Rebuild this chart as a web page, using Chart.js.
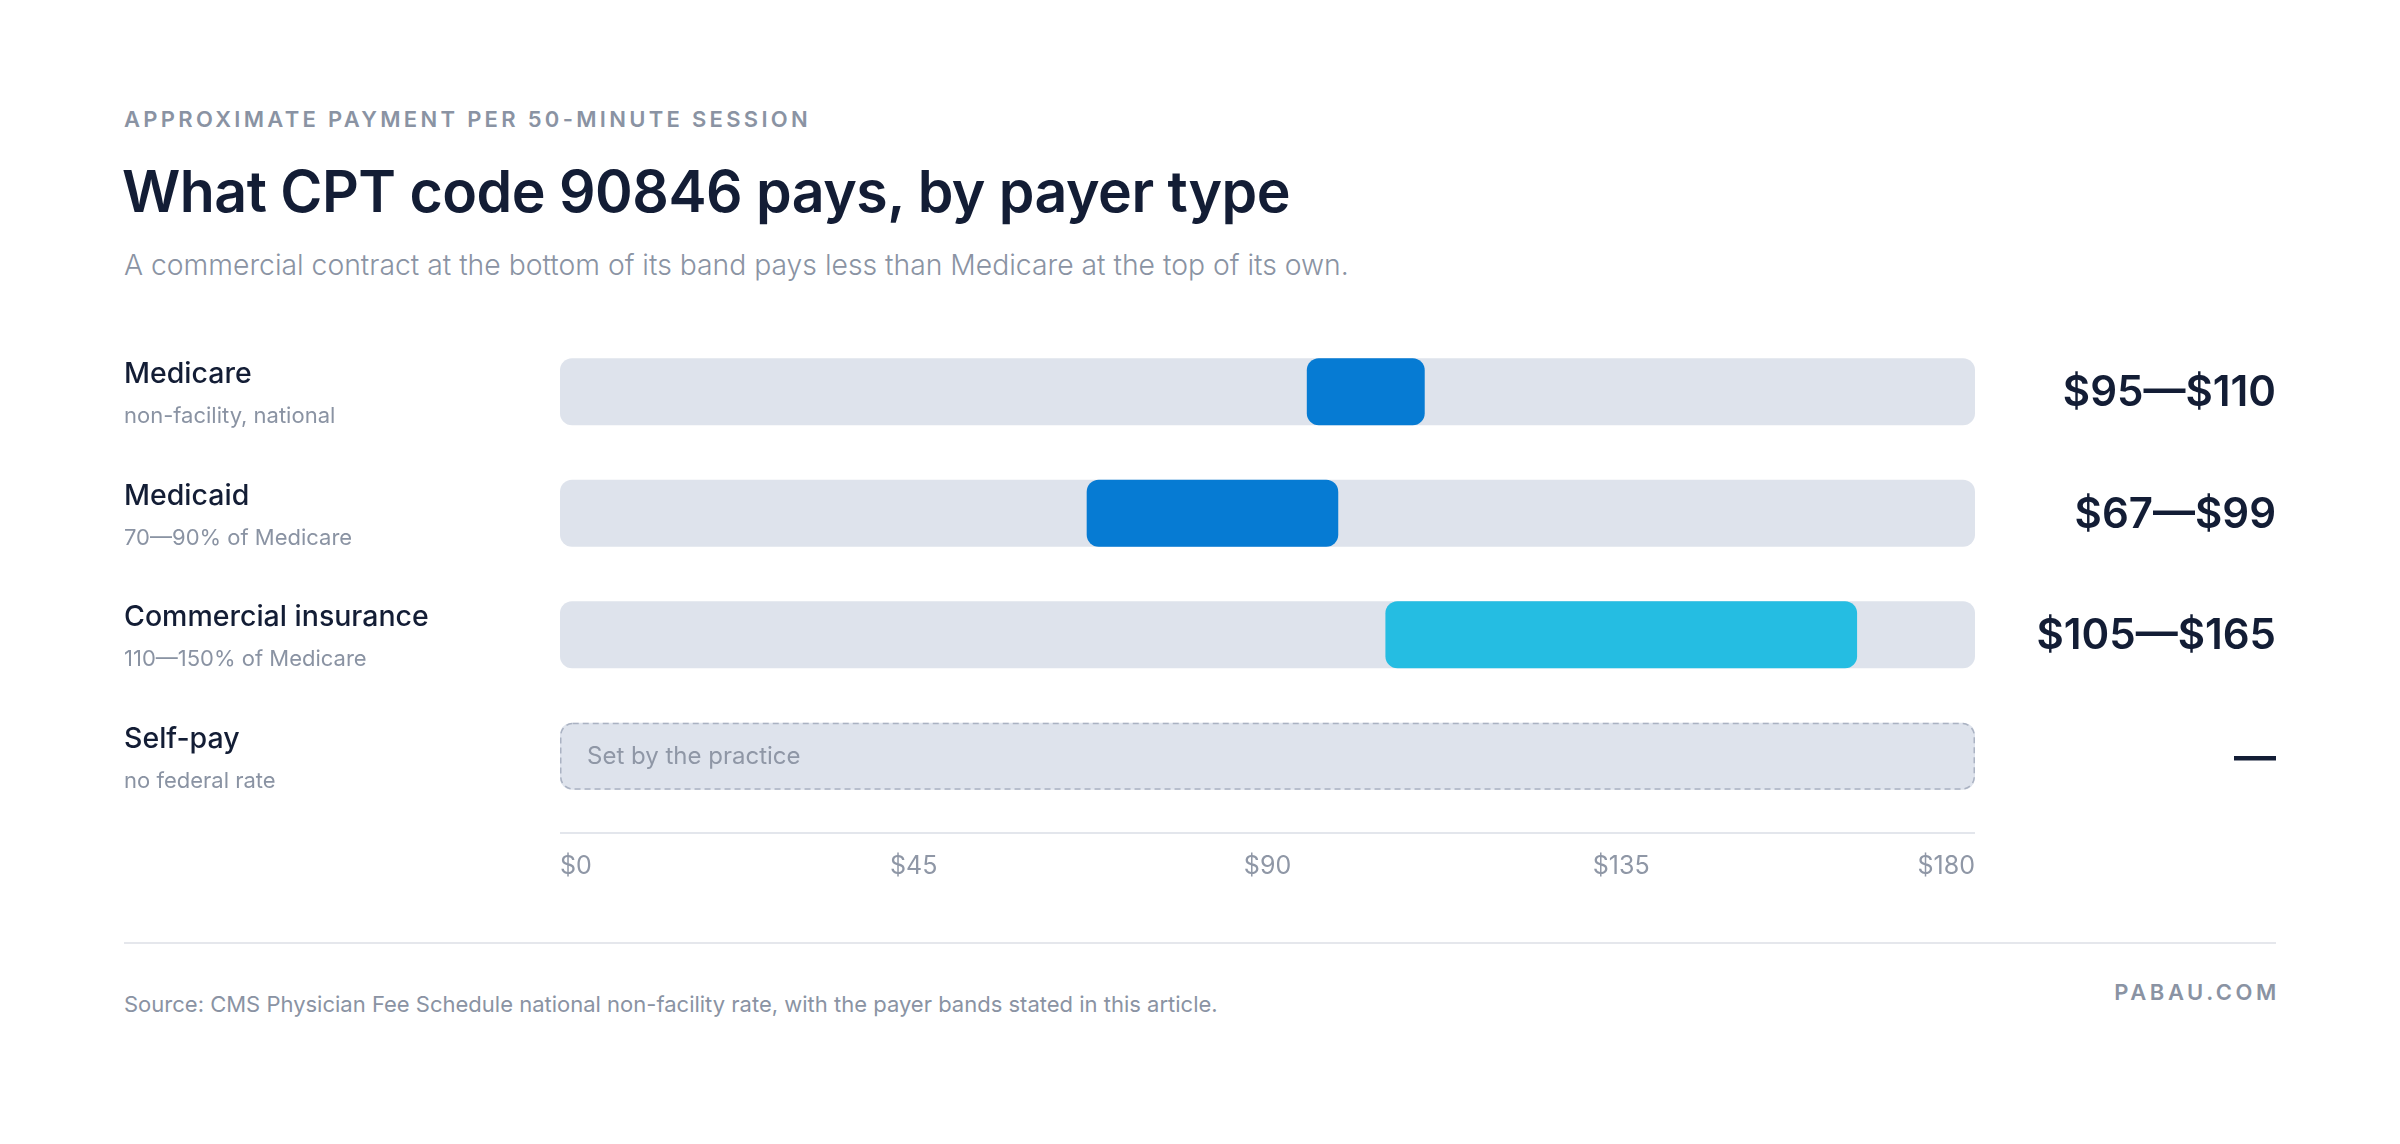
<!DOCTYPE html>
<html>
<head>
<meta charset="utf-8">
<script src="https://cdn.jsdelivr.net/npm/chart.js@4.4.1/dist/chart.umd.min.js"></script>
<style>
  body { margin: 0; background: #ffffff; font-family: Inter, "Noto Sans", sans-serif; }
  #page { position: relative; width: 2400px; height: 1144px; overflow: hidden; }
  .txt { position: absolute; white-space: nowrap; line-height: 1; }
  #eyebrow { left: 124px; top: 108px; font-size: 22px; font-weight: 600; letter-spacing: 3.3px; color: #8a93a3; }
  #title { left: 122px; top: 163px; font-size: 57.2px; font-weight: 600; color: #131d35; letter-spacing: -0.5px; }
  #subtitle { left: 124px; top: 251px; font-size: 28.3px; font-weight: 300; color: #8a93a3; }
  #rule { position: absolute; left: 124px; top: 942px; width: 2152px; height: 2px; background: #e5e7ec; }
  #source { left: 124px; top: 993px; font-size: 22px; color: #8a93a3; }
  #brand { right: 120px; top: 981px; font-size: 22px; font-weight: 600; letter-spacing: 3.6px; color: #8a93a3; }
  #chartBox { position: absolute; left: 0; top: 300px; width: 2400px; height: 620px; }
</style>
</head>
<body>
<div id="page">
  <div class="txt" id="eyebrow">APPROXIMATE PAYMENT PER 50-MINUTE SESSION</div>
  <div class="txt" id="title">What CPT code 90846 pays, by payer type</div>
  <div class="txt" id="subtitle">A commercial contract at the bottom of its band pays less than Medicare at the top of its own.</div>
  <div id="chartBox"><canvas id="Chart1" width="2400" height="620"></canvas></div>
  <div id="rule"></div>
  <div class="txt" id="source">Source: CMS Physician Fee Schedule national non-facility rate, with the payer bands stated in this article.</div>
  <div class="txt" id="brand">PABAU.COM</div>
</div>
<script>
// chart values
const payers = ['Medicare', 'Medicaid', 'Commercial insurance', 'Self-pay'];
const payerNotes = ['non-facility, national', '70\u201490% of Medicare', '110\u2014150% of Medicare', 'no federal rate'];
const lowValues = [95, 67, 105, null];
const highValues = [110, 99, 165, null];
const barColors = ['#067bd3', '#067bd3', '#25bde2', '#067bd3'];
const tickValues = [0, 45, 90, 135, 180];
const axisMax = 180;
const selfPayNote = 'Set by the practice';

const dark = '#131d35';
const grey = '#8a93a3';
const trackColor = '#dee3ec';

// range label on the right, built from the values
function rangeText(i) {
    if (lowValues[i] == null) return '\u2014';
    return '$' + lowValues[i] + '\u2014$' + highValues[i];
}

// draws the row labels, the range text, the dashed self-pay track and the axis line
const decorations = {
    id: 'decorations',
    afterDatasetsDraw(chart) {
        const ctx = chart.ctx;
        const yScale = chart.scales.y;
        const area = chart.chartArea;
        const trackMeta = chart.getDatasetMeta(0);
        ctx.save();
        payers.forEach((name, i) => {
            const cy = yScale.getPixelForValue(i);
            ctx.textBaseline = 'middle';
            ctx.textAlign = 'left';
            ctx.fillStyle = dark;
            ctx.font = '500 28.5px Inter, "Noto Sans", sans-serif';
            ctx.fillText(name, 124, cy - 17);
            ctx.fillStyle = grey;
            ctx.font = '400 22px Inter, "Noto Sans", sans-serif';
            ctx.fillText(payerNotes[i], 124, cy + 25);

            ctx.textAlign = 'right';
            ctx.fillStyle = dark;
            ctx.font = '600 42px Inter, "Noto Sans", sans-serif';
            ctx.fillText(rangeText(i), 2276, cy + 2);

            // rows without a federal rate get a dashed outline and a note
            if (lowValues[i] == null) {
                const bar = trackMeta.data[i];
                const left = Math.min(bar.x, bar.base);
                const w = Math.abs(bar.x - bar.base);
                const h = bar.height;
                ctx.beginPath();
                ctx.setLineDash([6, 4]);
                ctx.lineWidth = 1.5;
                ctx.strokeStyle = '#aab2c2';
                ctx.roundRect(left + 0.75, cy - h / 2 + 0.75, w - 1.5, h - 1.5, 12);
                ctx.stroke();
                ctx.setLineDash([]);
                ctx.textAlign = 'left';
                ctx.fillStyle = '#8f97a6';
                ctx.font = '400 24px Inter, "Noto Sans", sans-serif';
                ctx.fillText(selfPayNote, left + 27, cy + 1);
            }
        });
        // axis line under the rows
        ctx.beginPath();
        ctx.strokeStyle = '#e3e6ec';
        ctx.lineWidth = 2;
        ctx.moveTo(area.left, area.bottom + 16);
        ctx.lineTo(area.right, area.bottom + 16);
        ctx.stroke();
        ctx.restore();
    }
};

const ctx = document.getElementById('Chart1').getContext('2d');
const Chart1 = new Chart(ctx, {
    type: 'bar',
    data: {
        labels: payers,
        datasets: [{
            label: 'track',
            data: payers.map(() => [0, axisMax]),
            backgroundColor: trackColor,
            borderRadius: 12,
            borderSkipped: false,
            order: 2
        }, {
            label: 'range',
            data: lowValues.map((lo, i) => lo == null ? null : [lo, highValues[i]]),
            backgroundColor: barColors,
            borderRadius: 12,
            borderSkipped: false,
            order: 1
        }]
    },
    options: {
        indexAxis: 'y',
        responsive: false,
        animation: false,
        devicePixelRatio: 1,
        grouped: false,
        barPercentage: 0.55,
        categoryPercentage: 1,
        layout: {
            padding: { left: 560, right: 425, top: 31, bottom: 5 }
        },
        plugins: {
            legend: { display: false },
            tooltip: { enabled: false }
        },
        scales: {
            y: {
                display: false
            },
            x: {
                min: 0,
                max: axisMax,
                afterBuildTicks: (scale) => {
                    scale.ticks = tickValues.map(v => ({ value: v }));
                },
                grid: { display: false, drawTicks: false },
                border: { display: false },
                ticks: {
                    align: 'inner',
                    padding: 34,
                    color: '#8f97a6',
                    font: { family: 'Inter, "Noto Sans", sans-serif', size: 25 },
                    callback: (v) => '$' + v
                }
            }
        }
    },
    plugins: [decorations]
});
</script>
</body>
</html>
